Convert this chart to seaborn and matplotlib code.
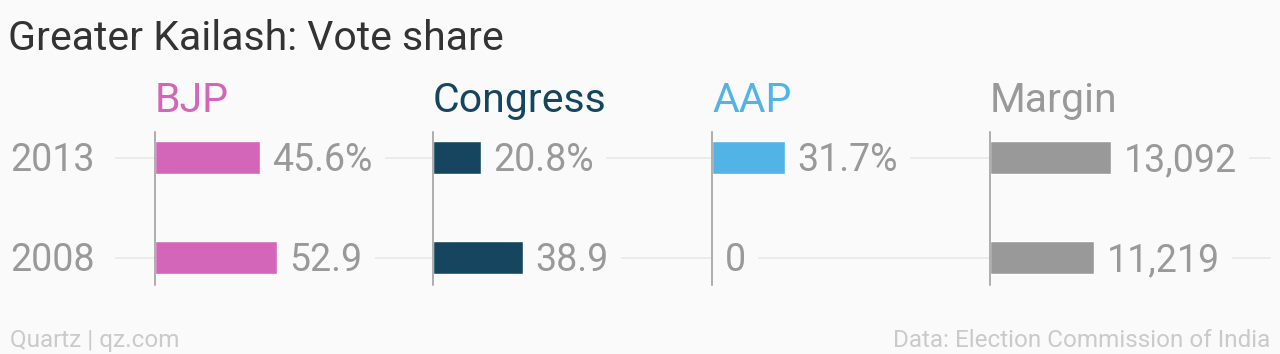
import pandas as pd
import matplotlib
matplotlib.use("Agg")
import matplotlib.pyplot as plt
import seaborn as sns

# Vote share data, Greater Kailash
years = ["2013", "2008"]
parties = ["BJP", "Congress", "AAP", "Margin"]
bjp = [45.6, 52.9]
congress = [20.8, 38.9]
aap = [31.7, 0]
margin = [13092, 11219]

colors = {"BJP": "#d366b9", "Congress": "#15455f", "AAP": "#51b3e6", "Margin": "#999999"}
BG = "#fafafa"
GRID = "#e9e9e9"
GREY = "#999999"

rows = []
for party, vals in zip(parties, [bjp, congress, aap, margin]):
    for yr, v in zip(years, vals):
        rows.append({"party": party, "year": yr, "value": v})
df = pd.DataFrame(rows)

sns.set_style("white")
plt.rcParams["font.family"] = ["Roboto", "DejaVu Sans"]
NUM_SIZE = 27

W, H = 1280, 354
fig = plt.figure(figsize=(W / 100, H / 100), dpi=100, facecolor=BG)

# axes band in pixels (from top)
top_px, bot_px = 132, 285
ax_bottom = (H - bot_px) / H
ax_height = (bot_px - top_px) / H
ylim = (1.273, -0.257)
base_off = -9.8  # points from row centre down to digit baseline

# background axes for row gridlines and year labels
ax_bg = fig.add_axes([0, ax_bottom, 1, ax_height])
ax_bg.set_xlim(0, W)
ax_bg.set_ylim(*ylim)
ax_bg.axis("off")
for i, yr in enumerate(years):
    ax_bg.axhline(i, xmin=10 / W, xmax=1270 / W, color=GRID, lw=1.2, zorder=0)
    ax_bg.annotate(yr, (10, i), xytext=(0, base_off), textcoords="offset points",
                   va="baseline", ha="left", fontsize=NUM_SIZE, color=GREY,
                   bbox=dict(boxstyle="square,pad=0.55", fc=BG, ec="none"), zorder=2)

lefts = [155, 433, 712, 990]
panel_w = 240
xmaxes = [104.3, 104.3, 104.3, 25900]

for party, left, xmax in zip(parties, lefts, xmaxes):
    ax = fig.add_axes([left / W, ax_bottom, panel_w / W, ax_height])
    ax.patch.set_alpha(0)
    sub = df[df["party"] == party]
    sns.barplot(data=sub, x="value", y="year", order=years, color=colors[party],
                width=0.333, saturation=1, ax=ax, errorbar=None)
    ax.set_xlim(0, xmax)
    ax.set_ylim(*ylim)
    ax.set_xlabel("")
    ax.set_ylabel("")
    ax.set_xticks([])
    ax.set_yticks([])
    for s in ["top", "right", "bottom"]:
        ax.spines[s].set_visible(False)
    ax.spines["left"].set_color(GREY)
    ax.spines["left"].set_linewidth(1.1)
    ax.spines["left"].set_zorder(8)

    for i, p in enumerate(ax.patches):
        v = p.get_width()
        if party == "Margin":
            lab = f"{v:,.0f}"
        elif v == 0:
            lab = "0"
        else:
            lab = f"{v:.1f}" + ("%" if i == 0 else "")
        yc = p.get_y() + p.get_height() / 2
        ax.annotate(lab, (v, yc), xytext=(9, base_off), textcoords="offset points",
                    ha="left", va="baseline", fontsize=NUM_SIZE, color=GREY,
                    annotation_clip=False,
                    bbox=dict(boxstyle="square,pad=0.33", fc=BG, ec="none"), zorder=6)

    ax.text(0, 1 + 20 / (bot_px - top_px), party, transform=ax.transAxes,
            ha="left", va="baseline", fontsize=29.5, color=colors[party])

fig.text(8 / W, 1 - 50 / H, "Greater Kailash: Vote share", ha="left", va="baseline",
         fontsize=29.5, color="#333333")
fig.text(10 / W, 1 - 347 / H, "Quartz | qz.com", ha="left", va="baseline",
         fontsize=17.5, color="#cacaca")
fig.text(1270 / W, 1 - 347 / H, "Data: Election Commission of India", ha="right",
         va="baseline", fontsize=17.5, color="#cacaca")

fig.savefig("out.png", dpi=100, facecolor=BG)
